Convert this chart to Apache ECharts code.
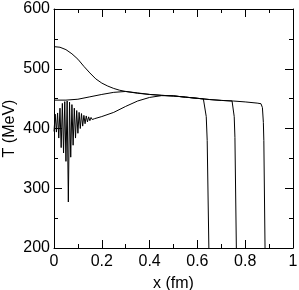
<!DOCTYPE html>
<html>
<head>
<meta charset="utf-8">
<script src="https://cdn.jsdelivr.net/npm/echarts@6/dist/echarts.min.js"></script>
<style>
html,body{margin:0;padding:0;background:#fff;}
#chart{width:299px;height:290px;}
</style>
</head>
<body>
<div id="chart"></div>
<script>
// Curve ending near x = 0.64 (starts high at T ~ 537 MeV)
const curveA = [[0,537],[0.025,536],[0.05,532],[0.075,525],[0.1,516],[0.125,504],[0.15,493],[0.175,483],[0.2,476],[0.225,471],[0.25,467],[0.275,464],[0.3,462],[0.35,459],[0.4,457],[0.45,455.5],[0.5,454.5],[0.55,452.5],[0.6,450.5],[0.625,449.5],[0.632,448],[0.637,420],[0.641,380],[0.648,200]];
// Curve ending near x = 0.76 (starts flat at T ~ 447 MeV)
const curveB = [[0,447.5],[0.05,447.5],[0.1,449],[0.15,453],[0.2,457],[0.25,460.5],[0.3,462],[0.35,459.5],[0.4,457],[0.45,455.5],[0.5,454.5],[0.55,452.5],[0.6,450.5],[0.65,448.5],[0.7,447],[0.745,446],[0.75,444],[0.754,420],[0.757,385],[0.763,200]];
// Curve ending near x = 0.88 (oscillating start)
const curveC = [[0,395],[0.005,424],[0.01,394],[0.015,426],[0.02,384],[0.025,434],[0.03,368],[0.035,442],[0.04,359],[0.045,445],[0.05,345],[0.055,446],[0.06,277],[0.065,444],[0.07,352],[0.075,440],[0.08,372],[0.085,434],[0.09,384],[0.095,430],[0.1,392],[0.105,427],[0.11,400],[0.115,425],[0.12,404],[0.125,422],[0.13,408],[0.135,421],[0.14,411],[0.145,419.5],[0.15,413],[0.155,418.5],[0.16,415],[0.165,417.5],[0.17,416.5],[0.2,420],[0.25,427],[0.3,437],[0.35,446],[0.4,452],[0.45,455],[0.5,454.5],[0.55,452.5],[0.6,450.5],[0.65,448.5],[0.7,447],[0.75,446],[0.8,444.5],[0.85,442.5],[0.866,441.5],[0.872,435],[0.876,410],[0.878,380],[0.883,200]];

const xRange = [0, 1], xStep = 0.2;
const yRange = [200, 600], yStep = 100;
const xTitle = 'x (fm)';
const yTitle = 'T (MeV)';

const font = 'Liberation Sans, Arial, Helvetica, sans-serif';
const lineCol = '#000';

function axisBase(show) {
  return {
    axisLine: {show: true, onZero: false, lineStyle: {color: lineCol, width: 1}},
    axisTick: {show: true, inside: true, length: 8, lineStyle: {color: lineCol, width: 1}},
    minorTick: {show: true, splitNumber: 2, length: 4, lineStyle: {color: lineCol, width: 1}},
    splitLine: {show: false},
    axisLabel: {show: show, color: '#000', fontFamily: font, fontSize: 16}
  };
}

const chart = echarts.init(document.getElementById('chart'), null, {renderer: 'canvas'});
chart.setOption({
  animation: false,
  backgroundColor: '#fff',
  grid: {left: 54, top: 9, right: 6, bottom: 42, containLabel: false, outerBoundsMode: 'none'},
  xAxis: [
    Object.assign(axisBase(true), {
      type: 'value', min: xRange[0], max: xRange[1], interval: xStep, position: 'bottom',
      name: xTitle, nameLocation: 'middle', nameGap: 28, nameMoveOverlap: false,
      nameTextStyle: {color: '#000', fontFamily: font, fontSize: 16},
      axisLabel: {show: true, color: '#000', fontFamily: font, fontSize: 16, margin: 6}
    }),
    Object.assign(axisBase(false), {
      type: 'value', min: xRange[0], max: xRange[1], interval: xStep, position: 'top'
    })
  ],
  yAxis: [
    Object.assign(axisBase(true), {
      type: 'value', min: yRange[0], max: yRange[1], interval: yStep, position: 'left',
      name: yTitle, nameLocation: 'middle', nameGap: 36, nameMoveOverlap: false,
      nameTextStyle: {color: '#000', fontFamily: font, fontSize: 16},
      axisLabel: {show: true, color: '#000', fontFamily: font, fontSize: 16, margin: 4}
    }),
    Object.assign(axisBase(false), {
      type: 'value', min: yRange[0], max: yRange[1], interval: yStep, position: 'right'
    })
  ],
  series: [curveA, curveB, curveC].map(d => ({
    type: 'line', data: d, showSymbol: false, symbol: 'none', smooth: false,
    lineStyle: {color: lineCol, width: 1}, clip: true
  }))
});
</script>
</body>
</html>
